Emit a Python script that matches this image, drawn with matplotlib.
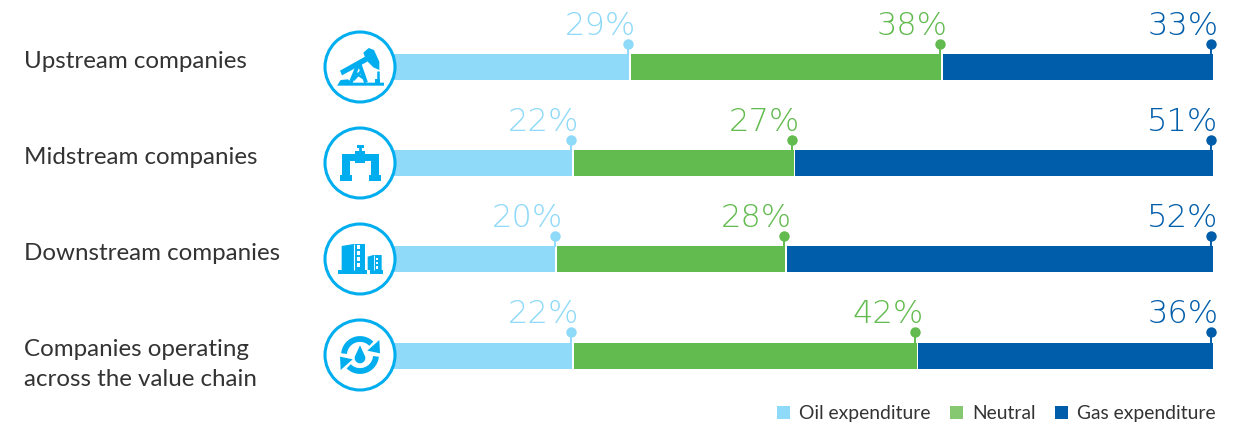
import numpy as np
import matplotlib
matplotlib.use('Agg')
import matplotlib.pyplot as plt
from matplotlib.patches import Circle, Polygon, Patch

companies = ['Upstream companies', 'Midstream companies', 'Downstream companies',
             'Companies operating\nacross the value chain']
oil = [29, 22, 20, 22]
neutral = [38, 27, 28, 42]
gas = [33, 51, 52, 36]
series_names = ['Oil expenditure', 'Neutral', 'Gas expenditure']

W, H = 1245, 424
LIGHT = '#8FD9F9'
GREEN = '#62BB4E'
BLUE = '#005DAA'
ICON = '#00AEEF'
TEXT = '#333333'
ROW_PX = 96
X0, PX_PER = 392.6, 8.2  # pixel of 0 %, pixels per %

plt.rcParams['font.family'] = ['Lato', 'DejaVu Sans']

fig = plt.figure(figsize=(W / 100, H / 100), dpi=100)
ax = fig.add_axes([0, 0, 1, 1])
ax.set_xlim(-X0 / PX_PER, (W - X0) / PX_PER)
ax.set_ylim((H - 67.5) / ROW_PX, -67.5 / ROW_PX)
ax.axis('off')

# pixel overlay for the circles, icons and row names
px = fig.add_axes([0, 0, 1, 1], zorder=3)
px.set_xlim(0, W)
px.set_ylim(H, 0)
px.axis('off')
px.patch.set_alpha(0)

y = np.arange(len(companies))
oil = np.array(oil)
neutral = np.array(neutral)
gas = np.array(gas)
bar_h = 26 / ROW_PX
gap = 1.4 / PX_PER

ax.barh(y, oil - gap, height=bar_h, color=LIGHT)
ax.barh(y, neutral - gap, left=oil + gap / 2, height=bar_h, color=GREEN)
ax.barh(y, gas - gap / 2, left=oil + neutral + gap / 2, height=bar_h, color=BLUE)

stem_top = -23.5 / ROW_PX
label_y = -32.5 / ROW_PX
for i in y:
    ends = [oil[i], oil[i] + neutral[i], oil[i] + neutral[i] + gas[i]]
    vals = [oil[i], neutral[i], gas[i]]
    for end, val, col in zip(ends, vals, [LIGHT, GREEN, BLUE]):
        xp = end - 2.1 / PX_PER
        ax.plot([xp, xp], [i + stem_top, i - bar_h / 2], color=col, lw=1.4, zorder=3)
        ax.plot(xp, i + stem_top, 'o', color=col, ms=7.5, mew=0, zorder=4)
        ax.text(xp + 8 / PX_PER, i + label_y, f'{val}%', ha='right', va='baseline',
                color=col, fontsize=23, fontfamily='DejaVu Sans', fontweight='light')

label_ys = [61, 157, 253]
for name, ly in zip(companies[:3], label_ys):
    px.text(24, ly, name, fontsize=17.4, color=TEXT, va='center', ha='left')
px.text(24, 364.5, companies[3], fontsize=17.4, color=TEXT, va='center', ha='left',
        linespacing=1.58)

centers = [(360, 67), (360, 163), (360, 259), (360, 355)]
for c in centers:
    px.add_patch(Circle(c, 35, fc='white', ec=ICON, lw=2.2, zorder=2))


def shape(c, origin, pts, color=ICON):
    p = (np.array(pts, dtype=float) - origin) / 3 + c
    px.add_patch(Polygon(p, closed=True, fc=color, ec='none', zorder=3))


def line(c, origin, pts, lw=2.0, color=ICON):
    p = (np.array(pts, dtype=float) - origin) / 3 + c
    px.plot(p[:, 0], p[:, 1], color=color, lw=lw, zorder=3, solid_capstyle='butt')


# pump jack
c, o = centers[0], (150, 111)
shape(c, o, [(90, 122), (165, 80), (172, 95), (96, 136)])
shape(c, o, [(160, 68), (176, 54), (192, 60), (208, 95), (208, 120), (190, 112), (168, 90)])
line(c, o, [(122, 158), (147, 98), (168, 158)], lw=2.8)
line(c, o, [(135, 128), (162, 145)], lw=2.0)
line(c, o, [(130, 150), (155, 122)], lw=2.0)
shape(c, o, [(82, 166), (92, 150), (114, 148), (124, 158), (222, 158), (222, 167), (82, 167)])
line(c, o, [(203, 122), (203, 155)], lw=1.8)
shape(c, o, [(196, 146), (211, 146), (211, 158), (196, 158)])

# valve
c, o = centers[1], (150, 399)
shape(c, o, [(97, 372), (135, 372), (135, 362), (165, 362), (165, 372), (207, 372),
             (207, 435), (183, 435), (183, 392), (165, 392), (165, 400), (135, 400),
             (135, 392), (120, 392), (120, 435), (97, 435)])
shape(c, o, [(90, 435), (125, 435), (125, 453), (90, 453)])
shape(c, o, [(177, 435), (212, 435), (212, 453), (177, 453)])
line(c, o, [(151, 350), (151, 365)], lw=2.0)
shape(c, o, [(140, 345), (162, 345), (162, 353), (140, 353)])

# buildings
c, o = centers[2], (150, 147)
shape(c, o, [(95, 108), (130, 102), (165, 102), (165, 180), (95, 180)])
shape(c, o, [(85, 180), (170, 180), (170, 192), (85, 192)])
shape(c, o, [(173, 140), (190, 135), (215, 135), (215, 180), (173, 180)])
shape(c, o, [(180, 180), (218, 180), (218, 192), (180, 192)])
line(c, o, [(132, 102), (132, 180)], lw=0.8, color='white')
line(c, o, [(191, 135), (191, 180)], lw=0.6, color='white')
for wy in [106, 124, 142, 160]:
    shape(c, o, [(141, wy), (150, wy), (150, wy + 10), (141, wy + 10)], 'white')
for wy in [143, 156, 169]:
    shape(c, o, [(197, wy), (205, wy), (205, wy + 7), (197, wy + 7)], 'white')

# cycle with drop
c, o = centers[3], (150, 435)
for start, stop in [(175, 45), (355, 225)]:
    t = np.radians(np.linspace(start, stop, 40))
    line(c, o, np.column_stack([150 + 48 * np.cos(t), 435 - 48 * np.sin(t)]), lw=4.2)
shape(c, o, [(208, 390), (210, 430), (172, 422)])
shape(c, o, [(92, 480), (90, 440), (128, 448)])
t = np.radians(np.linspace(30, -210, 30))
drop = np.column_stack([150 + 16 * np.cos(t), 444 - 16 * np.sin(t)])
shape(c, o, np.vstack([[(150, 406)], drop]))

handles = [Patch(fc=LIGHT, label=series_names[0]), Patch(fc='#86C772', label=series_names[1]),
           Patch(fc=BLUE, label=series_names[2])]
fig.legend(handles=handles, loc='lower right', bbox_to_anchor=(1216 / W, 1 - 422 / H), ncol=3,
           frameon=False, fontsize=13.9, handlelength=0.67, handleheight=0.67,
           handletextpad=0.47, columnspacing=1.03, borderpad=0, borderaxespad=0,
           labelcolor=TEXT)

fig.savefig('out.png', dpi=100)
